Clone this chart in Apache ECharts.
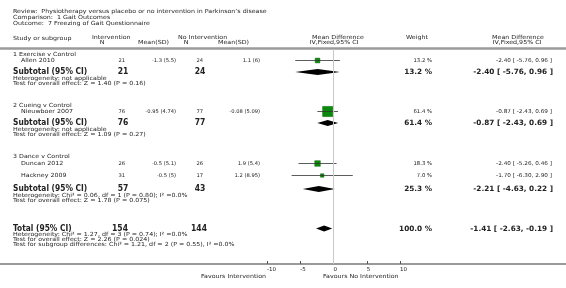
<!DOCTYPE html>
<html>
<head>
<meta charset="utf-8">
<script src="https://cdn.jsdelivr.net/npm/echarts@6/dist/echarts.min.js"></script>
<style>
  html, body { margin: 0; padding: 0; background: #fff; }
  #chart { width: 566px; height: 288px; }
</style>
</head>
<body>
<div id="chart"></div>
<script>
// studies
var studies = ['Allen 2010', 'Nieuwboer 2007', 'Duncan 2012', 'Hackney 2009']
var studyIntN = [21, 76, 26, 31]
var studyIntMeanSD = ['-1.3 (5.5)', '-0.95 (4.74)', '-0.5 (5.1)', '-0.5 (5)']
var studyCtlN = [24, 77, 26, 17]
var studyCtlMeanSD = ['1.1 (6)', '-0.08 (5.09)', '1.9 (5.4)', '1.2 (8.95)']
var studyMD = [-2.40, -0.87, -2.40, -1.70]
var studyLo = [-5.76, -2.43, -5.26, -6.30]
var studyHi = [0.96, 0.69, 0.46, 2.90]
var studyWeight = [13.2, 61.4, 18.3, 7.0]

// subgroups
var groupNames = ['1 Exercise v Control', '2 Cueing v Control', '3 Dance v Control']
var groupIntN = [21, 76, 57]
var groupCtlN = [24, 77, 43]
var groupMD = [-2.40, -0.87, -2.21]
var groupLo = [-5.76, -2.43, -4.63]
var groupHi = [0.96, 0.69, 0.22]
var groupWeight = [13.2, 61.4, 25.3]
var groupHet = [
  'Heterogeneity: not applicable',
  'Heterogeneity: not applicable',
  'Heterogeneity: Chi² = 0.06, df = 1 (P = 0.80); I² =0.0%',
]
var groupTest = [
  'Test for overall effect: Z = 1.40 (P = 0.16)',
  'Test for overall effect: Z = 1.09 (P = 0.27)',
  'Test for overall effect: Z = 1.78 (P = 0.075)',
]

// total
var totalIntN = [154]
var totalCtlN = [144]
var totalMD = [-1.41]
var totalLo = [-2.63]
var totalHi = [-0.19]
var totalWeight = [100.0]
var totalNotes = [
  'Heterogeneity: Chi² = 1.27, df = 3 (P = 0.74); I² =0.0%',
  'Test for overall effect: Z = 2.26 (P = 0.024)',
  'Test for subgroup differences: Chi² = 1.21, df = 2 (P = 0.55), I² =0.0%',
]

var xTicks = [-10, -5, 0, 5, 10]

// layout (page rows, px)
var studyRowY = [61, 112, 164, 176]
var groupTitleY = [55, 106, 157]
var groupRowY = [72, 123, 189]
var totalRowY = 229

var FONT = 'DejaVu Sans'
var TXT = '#222'

var myChart = echarts.init(document.getElementById('chart'))

// small hinted text in the original is wider than it is tall -> stretch a bit
function txt(x, y, s, size, align, bold, sx) {
  return {
    type: 'text',
    x: x,
    y: y,
    scaleX: sx || 1,
    silent: true,
    style: {
      text: s,
      fontFamily: FONT,
      fontSize: size,
      fontWeight: bold ? 'bold' : 'normal',
      fill: TXT,
      align: align || 'left',
      verticalAlign: 'middle',
    },
  }
}
function lbl(x, y, s, align) {
  return txt(x, y, s, 5.6, align, false, 1.13)
}
function fmtCI(md, lo, hi) {
  return md.toFixed(2) + ' [ ' + lo.toFixed(2) + ', ' + hi.toFixed(2) + ' ]'
}

var g = []
// title block
g.push(lbl(13, 12, 'Review:  Physiotherapy versus placebo or no intervention in Parkinson\u2019s disease'))
g.push(lbl(13, 17.5, 'Comparison:  1 Gait Outcomes'))
g.push(lbl(13, 23.5, 'Outcome:  7 Freezing of Gait Questionnaire'))
// column headers
g.push(lbl(13, 39, 'Study or subgroup'))
g.push(lbl(92, 38, 'Intervention'))
g.push(lbl(102, 43, 'N', 'center'))
g.push(lbl(138, 43, 'Mean(SD)'))
g.push(lbl(178, 38, 'No Intervention'))
g.push(lbl(186, 43, 'N', 'center'))
g.push(lbl(218, 43, 'Mean(SD)'))
g.push(lbl(338, 38, 'Mean Difference', 'center'))
g.push(lbl(334, 43, 'IV,Fixed,95% CI', 'center'))
g.push(lbl(417, 38, 'Weight', 'center'))
g.push(lbl(518, 38, 'Mean Difference', 'center'))
g.push(lbl(517, 43, 'IV,Fixed,95% CI', 'center'))
// header rule + axis rule
g.push({ type: 'line', silent: true, shape: { x1: 0, y1: 48.5, x2: 566, y2: 48.5 }, style: { stroke: '#9a9a9a', lineWidth: 2.5 } })
g.push({ type: 'line', silent: true, shape: { x1: 0, y1: 264, x2: 566, y2: 264 }, style: { stroke: '#9a9a9a', lineWidth: 2 } })

// study rows
studies.forEach(function (s, i) {
  var y = studyRowY[i]
  g.push(lbl(21, y, s))
  g.push(txt(125, y, String(studyIntN[i]), 5.2, 'right'))
  g.push(txt(176, y, studyIntMeanSD[i], 5.2, 'right'))
  g.push(txt(203, y, String(studyCtlN[i]), 5.2, 'right'))
  g.push(txt(260, y, studyCtlMeanSD[i], 5.2, 'right'))
  g.push(txt(432, y, studyWeight[i].toFixed(1) + ' %', 5.3, 'right'))
  g.push(txt(552, y, fmtCI(studyMD[i], studyLo[i], studyHi[i]), 5.3, 'right', false, 1.08))
})
// subgroup rows
groupNames.forEach(function (s, i) {
  var y = groupRowY[i]
  g.push(lbl(13, groupTitleY[i], s))
  g.push(txt(13, y, 'Subtotal (95% CI)', 8.5, 'left', true, 0.88))
  g.push(txt(123, y, String(groupIntN[i]), 8.5, 'center', true, 0.9))
  g.push(txt(200, y, String(groupCtlN[i]), 8.5, 'center', true, 0.9))
  g.push(txt(432, y, groupWeight[i].toFixed(1) + ' %', 7.3, 'right', true))
  g.push(txt(553, y, fmtCI(groupMD[i], groupLo[i], groupHi[i]), 7.3, 'right', true))
  g.push(lbl(13, y + 6.5, groupHet[i]))
  g.push(lbl(13, y + 11.5, groupTest[i]))
})
// total
g.push(txt(13, totalRowY, 'Total (95% CI)', 8.5, 'left', true, 0.88))
g.push(txt(120, totalRowY, String(totalIntN[0]), 8.5, 'center', true, 0.9))
g.push(txt(199, totalRowY, String(totalCtlN[0]), 8.5, 'center', true, 0.9))
g.push(txt(432, totalRowY, totalWeight[0].toFixed(1) + ' %', 7.3, 'right', true))
g.push(txt(553, totalRowY, fmtCI(totalMD[0], totalLo[0], totalHi[0]), 7.3, 'right', true))
totalNotes.forEach(function (s, i) {
  g.push(lbl(13, totalRowY + 5.5 + i * 5, s))
})
// favours labels
g.push(lbl(266, 276.5, 'Favours Intervention', 'right'))
g.push(lbl(323, 276.5, 'Favours No Intervention', 'left'))

var studyData = studies.map(function (s, i) {
  return [studyMD[i], studyLo[i], studyHi[i], studyRowY[i] - 0.5, studyWeight[i]]
})
var diamondData = groupMD.map(function (m, i) {
  return [m, groupLo[i], groupHi[i], groupRowY[i]]
})
diamondData.push([totalMD[0], totalLo[0], totalHi[0], totalRowY - 0.5])

var option = {
  animation: false,
  grid: { left: 267, width: 133, top: 49, bottom: 24 },
  xAxis: {
    type: 'value',
    min: -10,
    max: 10,
    interval: 5,
    axisLine: { show: false },
    axisTick: { show: true, inside: true, length: 3, lineStyle: { color: '#555' } },
    splitLine: { show: false },
    axisLabel: {
      fontFamily: FONT,
      fontSize: 5.5,
      color: TXT,
      align: 'left',
      margin: 3,
      customValues: xTicks,
    },
  },
  yAxis: { type: 'value', min: 49, max: 264, inverse: true, show: false },
  series: [
    {
      type: 'custom',
      silent: true,
      data: studyData,
      renderItem: function (params, api) {
        var c = api.coord([api.value(0), api.value(3)])
        var l = api.coord([api.value(1), api.value(3)])
        var r = api.coord([api.value(2), api.value(3)])
        var sz = 1.3 * Math.sqrt(api.value(4))
        return {
          type: 'group',
          children: [
            { type: 'rect', shape: { x: c[0] - sz / 2, y: c[1] - sz / 2, width: sz, height: sz }, style: { fill: '#0a8a0a', stroke: '#066406', lineWidth: 0.5 } },
            { type: 'line', shape: { x1: l[0], y1: l[1], x2: r[0], y2: r[1] }, style: { stroke: '#333', lineWidth: 0.8 } },
          ],
        }
      },
      markLine: {
        silent: true,
        symbol: 'none',
        label: { show: false },
        lineStyle: { color: '#c8c8c8', width: 1, type: 'solid' },
        data: [{ xAxis: 0 }],
      },
      z: 3,
    },
    {
      type: 'custom',
      silent: true,
      data: diamondData,
      renderItem: function (params, api) {
        var c = api.coord([api.value(0), api.value(3)])
        var l = api.coord([api.value(1), api.value(3)])
        var r = api.coord([api.value(2), api.value(3)])
        return {
          type: 'polygon',
          shape: { points: [l, [c[0], c[1] - 3], r, [c[0], c[1] + 3]] },
          style: { fill: '#000' },
        }
      },
      z: 4,
    },
  ],
  graphic: g,
}

myChart.setOption(option)
window.addEventListener('resize', function () {
  myChart.resize()
})
</script>
</body>
</html>
